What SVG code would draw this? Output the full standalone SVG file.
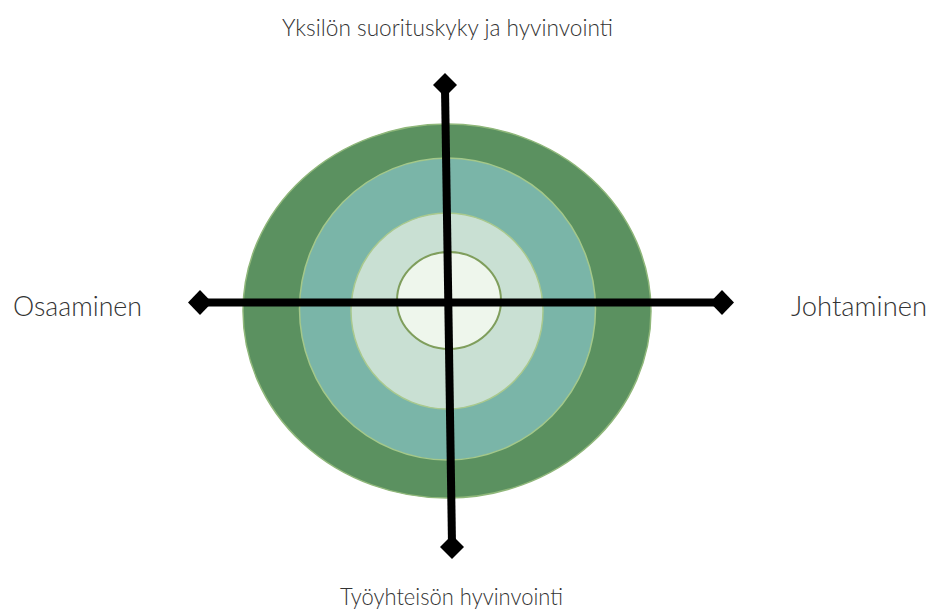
<svg xmlns="http://www.w3.org/2000/svg" width="932" height="610" viewBox="0 0 932 610">
<style>
.lbl{font-family:Lato,"Open Sans","Liberation Sans",sans-serif;font-weight:300;fill:#333;}
.tb{font-size:24px;}
.sd{font-size:28px;}
.ax{stroke:#000;stroke-width:8;fill:none;}
.dia{fill:#000;}
</style>
<rect width="932" height="610" fill="#fff"/>
<g id="rings">
<ellipse id="ring-outer" cx="447" cy="311" rx="204" ry="187" fill="#5b9160" stroke="#8fb77a" stroke-width="1.5"/>
<ellipse id="ring-2" cx="447.5" cy="309" rx="148" ry="151" fill="#7ab5a8" stroke="#a4c88a" stroke-width="1.5"/>
<ellipse id="ring-3" cx="447" cy="311" rx="96" ry="98" fill="#c9e0d3" stroke="#a9c98e" stroke-width="1.5"/>
<ellipse id="ring-inner" cx="449" cy="300.5" rx="52" ry="48.5" fill="#eef6ec" stroke="#7f9e5c" stroke-width="2"/>
</g>
<g id="connectors">
<line class="ax" x1="445" y1="88" x2="452" y2="544"/>
<line class="ax" x1="203" y1="302.5" x2="719" y2="302.5"/>
<polygon class="dia" points="445,73 457,85 445,97 433,85"/>
<polygon class="dia" points="452,535 464,547 452,559 440,547"/>
<polygon class="dia" points="200,290 212,302.5 200,315 188,302.5"/>
<polygon class="dia" points="722,290 734,302.5 722,315 710,302.5"/>
</g>
<g id="label-top"><text class="lbl tb" x="282" y="36" textLength="331" lengthAdjust="spacingAndGlyphs">Yksilön suorituskyky ja hyvinvointi</text></g>
<g id="label-left"><text class="lbl sd" x="13" y="316" textLength="129" lengthAdjust="spacingAndGlyphs">Osaaminen</text></g>
<g id="label-right"><text class="lbl sd" x="791" y="316" textLength="136" lengthAdjust="spacingAndGlyphs">Johtaminen</text></g>
<g id="label-bottom"><text class="lbl tb" x="340" y="605" textLength="223" lengthAdjust="spacingAndGlyphs">Työyhteisön hyvinvointi</text></g>
</svg>
